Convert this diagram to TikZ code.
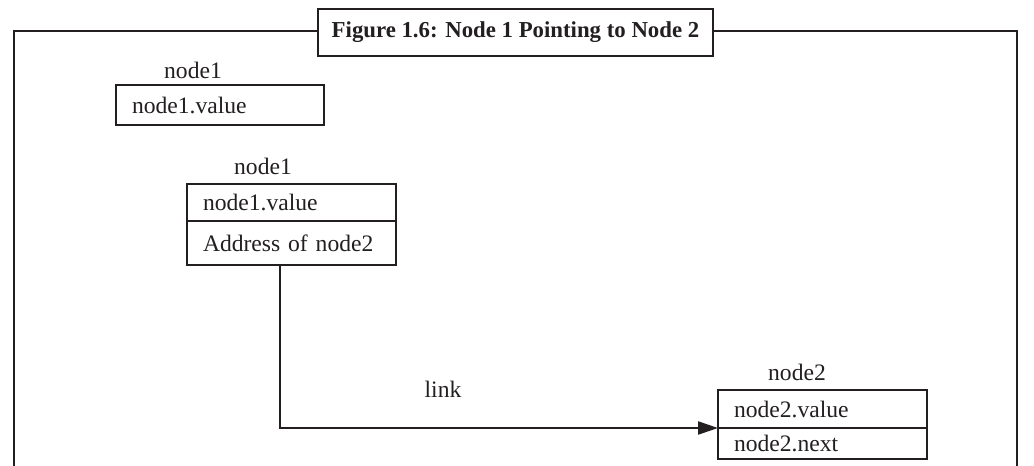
\documentclass[tikz,border=0pt]{standalone}
\usepackage{fontspec}
\setmainfont{Liberation Serif}
\usetikzlibrary{arrows.meta}
\definecolor{ink}{HTML}{231F20}
\begin{document}
\begin{tikzpicture}[x=0.5pt,y=-0.5pt,
  every node/.style={text=ink,font=\fontsize{11.8}{14}\selectfont},
  cell/.style={draw=ink,line width=1.4pt,anchor=north west,outer sep=0pt,inner xsep=8pt,inner ysep=0pt,align=left},
  tag/.style={inner sep=0pt},
  frame/.style={draw=ink,line width=1.2pt},
  link/.style={draw=ink,line width=1.1pt,-{Triangle[length=10pt,width=6.5pt]}}]
\useasboundingbox (0,0) rectangle (1034,466);

% outer frame, open at the bottom
\draw[frame] (14,470) -- (14,31) -- (1017,31) -- (1017,470);
\node[draw=ink,line width=1.3pt,fill=white,minimum width=197.5pt,minimum height=23.5pt,inner sep=0pt,
      font=\fontsize{11.4}{13}\selectfont\bfseries] (title) at (515.5,32.5)
      {Figure 1.6: Node 1 Pointing to Node 2};

% a lone node with its value
\node[tag] (lbl1) at (193,70) {node1};
\node[cell,text width=88pt,minimum height=20pt] (n1) at (116,85) {node1.value};

% node1 holding the address of node2
\node[tag] (lbl2) at (263,166) {node1};
\node[cell,text width=88.5pt,minimum height=18.5pt] (n1v) at (187,184) {node1.value};
\node[cell,text width=88.5pt,minimum height=22pt] (n1a) at (187,221) {Address of node2};

% node2
\node[tag] (lbl3) at (797,372) {node2};
\node[cell,text width=88.5pt,minimum height=19pt] (n2v) at (718,390) {node2.value};
\node[cell,text width=88.5pt,minimum height=15.5pt] (n2n) at (718,428) {node2.next};

% the link from node1 to node2
\coordinate (bend) at (280,428);
\node[tag] (linklbl) at (443,389) {link};
\draw[link] (n1a.south -| bend) |- (n2v.south west);
\end{tikzpicture}
\end{document}
